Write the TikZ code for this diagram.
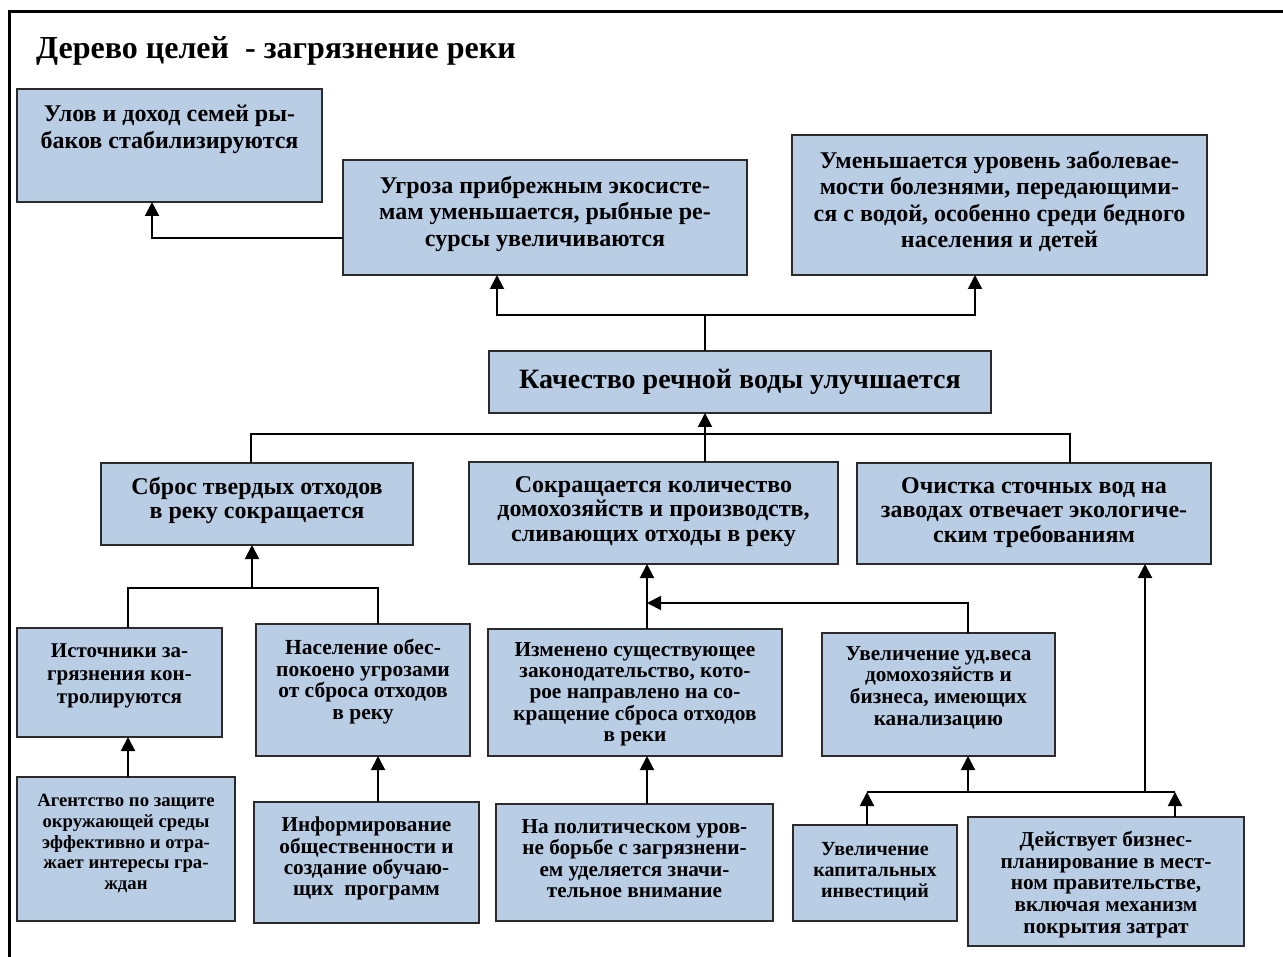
\documentclass[tikz,border=0pt]{standalone}
\usepackage{fontspec}
\setmainfont{Liberation Serif}
\usetikzlibrary{arrows.meta}
\definecolor{boxfill}{HTML}{B9CDE5}
\definecolor{boxline}{HTML}{2B2B2B}
\tikzset{
 gb/.style={draw=boxline, line width=1.5pt, fill=boxfill, rectangle, inner sep=0pt, outer sep=0pt},
 gt/.style={anchor=north, align=center, inner sep=0pt, font=\bfseries},
 conn/.style={line width=2pt, draw=black},
 ar/.style={conn, -{Triangle[width=14pt,length=14pt]}},
}
\newcommand\gbox[9]{%
  \node[gb, minimum width={(#4)-(#2)}, minimum height={(#5)-(#3)}] (#1) at ({((#2)+(#4))/2},{((#3)+(#5))/2}) {};
  \node[gt, font=\fontsize{#6}{#7}\selectfont\bfseries] (#1t) at ([yshift=-#8]#1.north) {#9};
}
\begin{document}
\begin{tikzpicture}[x=1pt,y=-1pt]
\useasboundingbox (0,0) rectangle (1283,957);
\draw[line width=3pt] (1283,12) -- (9,12) -- (9,957);
\node[anchor=base west, inner sep=0pt, font=\fontsize{32}{36}\selectfont\bfseries] (title) at (36,59) {Дерево целей \ - загрязнение реки};

\gbox{b1}{17}{89}{322}{202}{24}{26.5}{16}{Улов и доход семей ры-\\баков стабилизируются}
\gbox{b2}{343}{160}{747}{275}{24}{26.5}{16}{Угроза прибрежным экосисте-\\мам уменьшается, рыбные ре-\\сурсы увеличиваются}
\gbox{b3}{792}{135}{1207}{275}{24}{26.5}{16}{Уменьшается уровень заболевае-\\мости болезнями, передающими-\\ся с водой, особенно среди бедного\\населения и детей}
\node[gb, minimum width=502, minimum height=62] (kach) at (740,382) {};
\node[inner sep=0pt, font=\fontsize{28}{32}\selectfont\bfseries] (kacht) at (kach.center) {Качество речной воды улучшается};

\gbox{sbros}{101}{463}{413}{545}{24}{24.5}{14}{Сброс твердых отходов\\в реку сокращается}
\gbox{sokr}{469}{462}{838}{564}{24}{24.5}{14}{Сокращается количество\\домохозяйств и производств,\\сливающих отходы в реку}
\gbox{ochist}{857}{463}{1211}{564}{24}{24.5}{14}{Очистка сточных вод на\\заводах отвечает экологиче-\\ским требованиям}

\gbox{ist}{17}{628}{222}{737}{21}{23}{16}{Источники за-\\грязнения кон-\\тролируются}
\gbox{nasel}{256}{624}{470}{756}{21.5}{21.7}{15}{Население обес-\\покоено угрозами\\от сброса отходов\\в реку}
\gbox{izm}{488}{629}{782}{756}{21.3}{21.3}{13}{Изменено существующее\\законодательство, кото-\\рое направлено на со-\\кращение сброса отходов\\в реки}
\gbox{uvud}{822}{633}{1055}{756}{21.2}{21.7}{13}{Увеличение уд.веса\\домохозяйств и\\бизнеса, имеющих\\канализацию}

\gbox{agent}{17}{777}{235}{921}{18.7}{20.8}{17}{Агентство по защите\\окружающей среды\\эффективно и отра-\\жает интересы гра-\\ждан}
\gbox{inform}{254}{802}{479}{923}{21.2}{21.3}{15}{Информирование\\общественности и\\создание обучаю-\\щих \ программ}
\gbox{polit}{496}{804}{773}{921}{21.2}{21.5}{15}{На политическом уров-\\не борьбе с загрязнени-\\ем уделяется значи-\\тельное внимание}
\gbox{kap}{793}{825}{957}{921}{20}{21}{17}{Увеличение\\капитальных\\инвестиций}
\gbox{deist}{968}{817}{1244}{946}{21.3}{21.7}{14}{Действует бизнес-\\планирование в мест-\\ном правительстве,\\включая механизм\\покрытия затрат}

% top connectors
\coordinate (j1) at (152,238);
\draw[ar] (b2.west |- j1) -| (b1.south -| j1);
\coordinate (t1) at (705,315);
\coordinate (tl) at (497,315);
\coordinate (tr) at (975,315);
\draw[conn] (kach.north -| t1) -- (t1);
\draw[ar] (t1) -| (b2.south -| tl);
\draw[ar] (t1) -| (b3.south -| tr);

% level 2
\coordinate (m1) at (251,434);
\coordinate (m2) at (1070,434);
\coordinate (m3) at (705,434);
\draw[conn] (sbros.north -| m1) -- (m1) -- (m2) -- (ochist.north -| m2);
\draw[ar] (sokr.north -| m3) -- (kach.south -| m3);

% left branch
\coordinate (s1) at (128,588);
\coordinate (s2) at (378,588);
\coordinate (s3) at (252,588);
\draw[conn] (ist.north -| s1) -- (s1) -- (s2) -- (nasel.north -| s2);
\draw[ar] (s3) -- (sbros.south -| s3);
\draw[ar] (agent.north -| s1) -- (ist.south -| s1);
\draw[ar] (inform.north -| s2) -- (nasel.south -| s2);

% middle branch
\coordinate (c1) at (647,603);
\coordinate (c2) at (968,603);
\draw[ar] (izm.north -| c1) -- (sokr.south -| c1);
\draw[ar] (uvud.north -| c2) -- (c2) -- (c1);
\draw[ar] (polit.north -| c1) -- (izm.south -| c1);

% right branch
\coordinate (r1) at (867,792);
\coordinate (r2) at (1175,792);
\coordinate (r3) at (968,792);
\coordinate (r4) at (1145,792);
\draw[conn] (r1) -- (r2);
\draw[ar] (kap.north -| r1) -- (r1);
\draw[ar] (deist.north -| r2) -- (r2);
\draw[ar] (r3) -- (uvud.south -| r3);
\draw[ar] (r4) -- (ochist.south -| r4);
\end{tikzpicture}
\end{document}
